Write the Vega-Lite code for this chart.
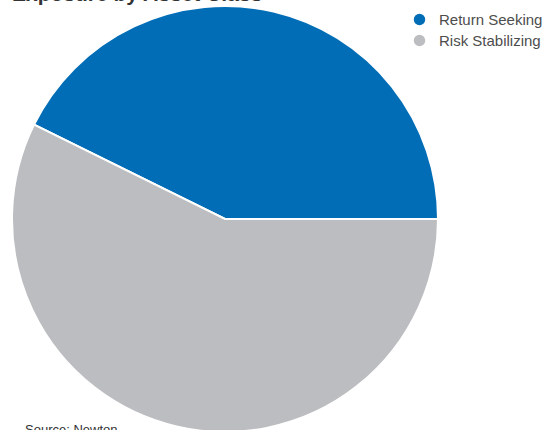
{
  "$schema": "https://vega.github.io/schema/vega-lite/v6.json",
  "autosize": "none",
  "width": 426,
  "height": 426,
  "padding": {"left": 12, "top": 6, "right": 111, "bottom": 0},
  "background": "white",
  "title": {
    "text": "Exposure by Asset Class",
    "anchor": "start",
    "frame": "group",
    "font": "Liberation Sans",
    "fontSize": 21,
    "fontWeight": "bold",
    "color": "#333333",
    "zindex": 1,
    "dy": 7
  },
  "config": {"view": {"stroke": null}},
  "layer": [
    {
      "data": {
        "values": [
          {"asset_class": "Return Seeking", "share": 42.7},
          {"asset_class": "Risk Stabilizing", "share": 57.3}
        ]
      },
      "mark": {"type": "arc", "stroke": "white", "strokeWidth": 2},
      "encoding": {
        "theta": {
          "field": "share",
          "type": "quantitative",
          "stack": true,
          "scale": {"range": [5.1714, 11.4546]}
        },
        "color": {
          "field": "asset_class",
          "type": "nominal",
          "scale": {
            "domain": ["Return Seeking", "Risk Stabilizing"],
            "range": ["#006db6", "#bcbdc0"]
          },
          "legend": {
            "title": null,
            "orient": "none",
            "legendX": 400,
            "legendY": 6,
            "symbolType": "circle",
            "symbolSize": 130,
            "symbolStrokeWidth": 0,
            "labelFont": "Liberation Sans",
            "labelFontSize": 15,
            "labelColor": "#4d4d4d",
            "rowPadding": 5,
            "labelOffset": 12,
            "padding": 0
          }
        }
      }
    },
    {
      "data": {"values": [{"note": "Source: Newton"}]},
      "mark": {
        "type": "text",
        "font": "Liberation Sans",
        "fontSize": 13,
        "color": "#333333",
        "align": "left",
        "baseline": "alphabetic",
        "x": 13,
        "y": 428
      },
      "encoding": {"text": {"field": "note", "type": "nominal"}}
    }
  ]
}
